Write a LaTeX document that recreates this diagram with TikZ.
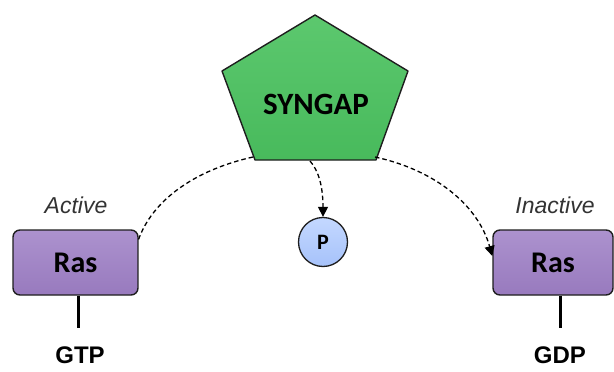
\documentclass[tikz,border=0pt]{standalone}
\usepackage{fontspec}
\setmainfont{Liberation Sans}
\newfontfamily\carl{Carlito}
\usetikzlibrary{arrows.meta}
\definecolor{sgreen}{RGB}{72,186,92}
\definecolor{sgreenL}{RGB}{92,200,110}
\definecolor{rpurple}{RGB}{152,122,190}
\definecolor{rpurpleL}{RGB}{172,146,206}
\definecolor{pblue}{RGB}{166,194,250}
\definecolor{pblueL}{RGB}{196,216,255}
\definecolor{edge}{RGB}{30,30,30}
\tikzset{
  rasbox/.style={draw=edge, line width=1.4pt, rounded corners=7pt, top color=rpurpleL, bottom color=rpurple, minimum height=65pt, inner sep=0pt, font=\carl\bfseries\fontsize{30}{30}\selectfont},
  pcirc/.style={circle, draw=edge, line width=1.3pt, top color=pblueL, bottom color=pblue, minimum size=49pt, inner sep=0pt, font=\carl\bfseries\fontsize{22}{22}\selectfont},
  dashconn/.style={draw=black, line width=1.3pt, dash pattern=on 4.5pt off 3pt},
  tipA/.style={-{Triangle[length=10pt,width=10pt]}},
  stalk/.style={line width=3pt, black},
  statelbl/.style={font=\itshape\fontsize{23}{23}\selectfont, text=black!80},
  nuclbl/.style={font=\bfseries\fontsize{24}{24}\selectfont}
}
\begin{document}
\begin{tikzpicture}[x=1pt,y=-1pt]
\useasboundingbox (0,0) rectangle (614,372);
% pentagon
\coordinate (pt) at (315,15);
\coordinate (pl) at (222,71);
\coordinate (pr) at (408,71);
\coordinate (pbl) at (255,160);
\coordinate (pbr) at (376,160);
\path[draw=edge, line width=1.4pt, line join=round, top color=sgreenL, bottom color=sgreen] (pt) -- (pr) -- (pbr) -- (pbl) -- (pl) -- cycle;
\node[font=\carl\bfseries\fontsize{31}{31}\selectfont] (syngap) at (316,104) {SYNGAP};
% Ras boxes
\node[rasbox, minimum width=125pt] (rasL) at (75.5,262.5) {Ras};
\node[rasbox, minimum width=120pt] (rasR) at (553,262.5) {Ras};
% state labels
\node[statelbl] (act) at (76,205) {Active};
\node[statelbl] (inact) at (555,205) {Inactive};
% stalks and nucleotides
\node[nuclbl] (gtp) at (80,355) {GTP};
\node[nuclbl] (gdp) at (560,355) {GDP};
\coordinate (sL) at (78,328);
\coordinate (sR) at (560,328);
\draw[stalk] (rasL.south -| sL) -- (sL);
\draw[stalk] (rasR.south -| sR) -- (sR);
% phosphate
\node[pcirc] (p) at (323,242) {P};
% connectors
\coordinate (aL) at (253,157);
\coordinate (aR) at (375,157);
\coordinate (aP) at (310,161);
\coordinate (eL) at (138,241);
\draw[dashconn] (aL) .. controls (195,170) and (152,200) .. (eL);
\draw[dashconn, tipA] (aR) .. controls (435,170) and (478,205) .. (rasR.west |- 0,256);
\draw[dashconn, tipA] (aP) .. controls (318,170) and (323,185) .. (p.north);
\end{tikzpicture}
\end{document}
